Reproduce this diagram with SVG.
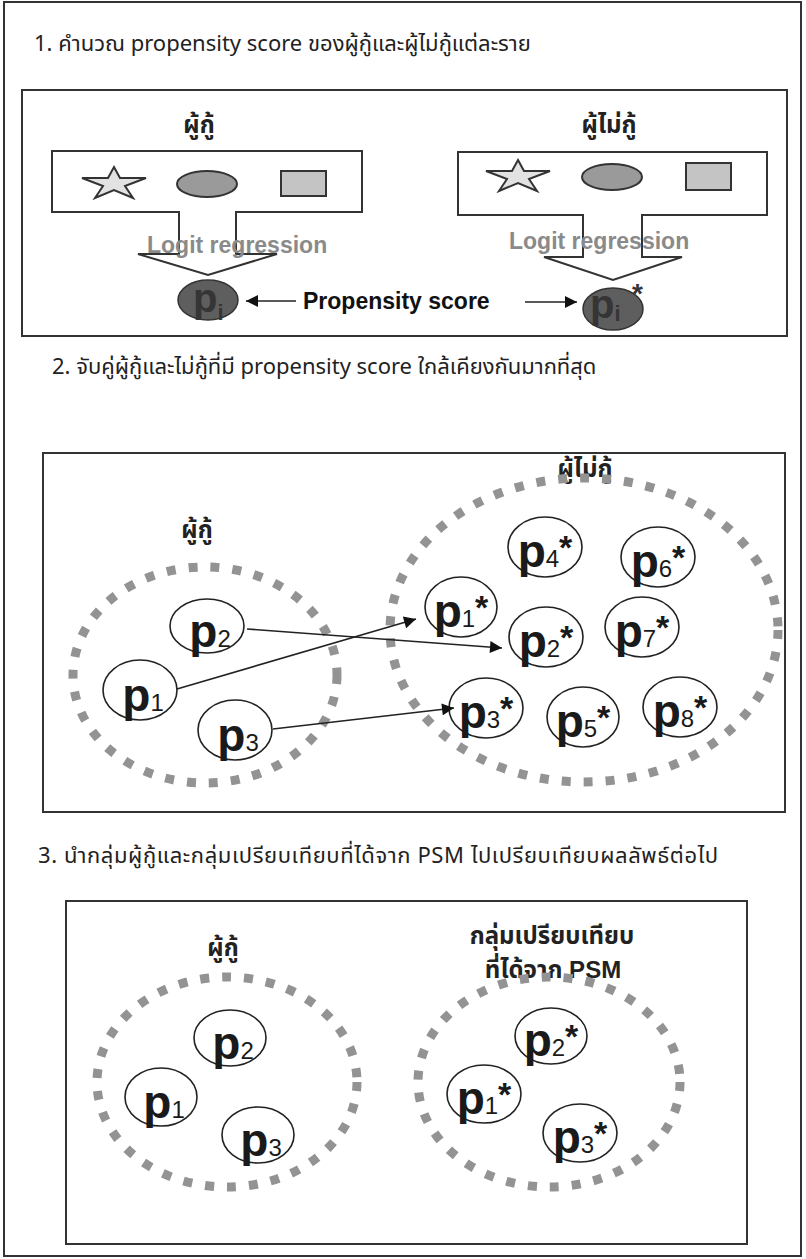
<svg xmlns="http://www.w3.org/2000/svg" width="806" height="1259" viewBox="0 0 806 1259">
<defs>
<style>
.frame{fill:none;stroke:#333;stroke-width:2}
.box{fill:#fff;stroke:#333;stroke-width:2}
.title{font-family:"Liberation Sans Narrow","Noto Sans Thai","Noto Sans","DejaVu Sans",sans-serif;font-size:22px;fill:#222}
.lab{font-family:"Liberation Sans","Noto Sans Thai","Noto Sans","DejaVu Sans",sans-serif;font-size:24px;font-weight:bold;fill:#222;text-anchor:middle}
.cont{fill:#fff;stroke:#333;stroke-width:2}
.star{fill:#e2e2e2;stroke:#333;stroke-width:2}
.oval{fill:#9a9a9a;stroke:#333;stroke-width:2}
.sq{fill:#c4c4c4;stroke:#333;stroke-width:2}
.logit{font-family:"Liberation Sans",Arial,sans-serif;font-size:23px;font-weight:bold;fill:#8a8a8a}
.pi{fill:#5e5e5e;stroke:#333;stroke-width:1.5}
.pit{font-family:"Liberation Sans",Arial,sans-serif;font-weight:bold;fill:#353535}
.ps{font-family:"Liberation Sans",Arial,sans-serif;font-size:23px;font-weight:bold;fill:#111}
.grp{fill:none;stroke:#939393;stroke-width:9;stroke-dasharray:9 13}
.node{fill:#fff;stroke:#222;stroke-width:1.6}
.nt{font-family:"Liberation Sans",Arial,sans-serif;fill:#1a1a1a;text-anchor:middle}
.pb{font-size:46px;font-weight:bold}
.sb{font-size:24px}
.as{font-size:34px;font-weight:bold}
.conn{stroke:#222;stroke-width:1.6;fill:none}
</style>
<marker id="ah2" viewBox="0 0 10 10" refX="10" refY="5" markerWidth="16" markerHeight="12" markerUnits="userSpaceOnUse" orient="auto">
<path d="M0,0 L10,5 L0,10 z" fill="#111"/>
</marker>
</defs>
<rect x="0" y="0" width="806" height="1259" fill="#fff"/>
<rect class="frame" x="4" y="2" width="797" height="1254"/>

<!-- Section 1 -->
<text class="title" x="34" y="51">1. คำนวณ propensity score ของผู้กู้และผู้ไม่กู้แต่ละราย</text>
<rect class="box" x="22" y="90" width="765" height="246"/>

<g id="borrowers-input">
<text class="lab" x="199" y="133">ผู้กู้</text>
<path class="cont" d="M52,151 H362 V212 H236 V254 H277 L208,275 L138,254 H179 V212 H52 Z"/>
<polygon class="star" points="114,167 120,178 146,178 125,186 133,198 114,190 95,198 103,186 82,178 108,178"/>
<ellipse class="oval" cx="207" cy="184" rx="30" ry="13"/>
<rect class="sq" x="281" y="171" width="45" height="25"/>
<text class="logit" x="147" y="253">Logit regression</text>
</g>
<g id="nonborrowers-input">
<text class="lab" x="609" y="133">ผู้ไม่กู้</text>
<path class="cont" d="M458,152 H767 V215 H642 V257 H682 L613,280 L544,257 H583 V215 H458 Z"/>
<polygon class="star" points="518,160 524,171 550,171 529,179 537,191 518,183 499,191 507,179 486,171 512,171"/>
<ellipse class="oval" cx="612" cy="177" rx="30" ry="13"/>
<rect class="sq" x="686" y="163" width="45" height="27"/>
<text class="logit" x="509" y="249">Logit regression</text>
</g>
<g id="pi">
<ellipse class="pi" cx="208" cy="300" rx="30" ry="20"/>
<text class="pit" x="193" y="312"><tspan font-size="40">p</tspan><tspan font-size="22" dy="8">i</tspan></text>
</g>
<g id="pi-star">
<ellipse class="pi" cx="613" cy="309" rx="30" ry="21"/>
<text class="pit" x="590" y="318"><tspan font-size="40">p</tspan><tspan font-size="22" dy="3">i</tspan></text>
<text class="pit" x="632" y="303" font-size="28" fill="#111">*</text>
</g>
<g id="ps-label">
<text class="ps" x="303" y="309">Propensity score</text>
</g>

<!-- Section 2 -->
<text class="title" x="52" y="374">2. จับคู่ผู้กู้และไม่กู้ที่มี propensity score ใกล้เคียงกันมากที่สุด</text>
<rect class="box" x="43" y="453" width="742" height="359"/>
<text class="lab" x="585" y="477">ผู้ไม่กู้</text>
<text class="lab" x="197" y="538">ผู้กู้</text>
<ellipse class="grp" cx="205" cy="675" rx="132" ry="108"/>
<ellipse class="grp" cx="584" cy="630" rx="194" ry="152"/>

<g id="s2-p2"><ellipse class="node" cx="207" cy="626" rx="37" ry="27"/><text class="nt" x="210" y="647"><tspan class="pb">p</tspan><tspan class="sb">2</tspan></text></g>
<g id="s2-p1"><ellipse class="node" cx="140" cy="690" rx="37" ry="30"/><text class="nt" x="143" y="711"><tspan class="pb">p</tspan><tspan class="sb">1</tspan></text></g>
<g id="s2-p3"><ellipse class="node" cx="235" cy="730" rx="37" ry="30"/><text class="nt" x="238" y="751"><tspan class="pb">p</tspan><tspan class="sb">3</tspan></text></g>

<g id="s2-p1s"><ellipse class="node" cx="461" cy="607" rx="36" ry="30"/><text class="nt" x="461" y="627"><tspan class="pb">p</tspan><tspan class="sb">1</tspan><tspan class="as" dy="-8">*</tspan></text></g>
<g id="s2-p4s"><ellipse class="node" cx="545" cy="547" rx="37" ry="30"/><text class="nt" x="545" y="567"><tspan class="pb">p</tspan><tspan class="sb">4</tspan><tspan class="as" dy="-8">*</tspan></text></g>
<g id="s2-p6s"><ellipse class="node" cx="658" cy="557" rx="37" ry="30"/><text class="nt" x="658" y="577"><tspan class="pb">p</tspan><tspan class="sb">6</tspan><tspan class="as" dy="-8">*</tspan></text></g>
<g id="s2-p2s"><ellipse class="node" cx="546" cy="637" rx="37" ry="30"/><text class="nt" x="546" y="657"><tspan class="pb">p</tspan><tspan class="sb">2</tspan><tspan class="as" dy="-8">*</tspan></text></g>
<g id="s2-p7s"><ellipse class="node" cx="642" cy="627" rx="37" ry="30"/><text class="nt" x="642" y="647"><tspan class="pb">p</tspan><tspan class="sb">7</tspan><tspan class="as" dy="-8">*</tspan></text></g>
<g id="s2-p3s"><ellipse class="node" cx="486" cy="708" rx="37" ry="30"/><text class="nt" x="486" y="728"><tspan class="pb">p</tspan><tspan class="sb">3</tspan><tspan class="as" dy="-8">*</tspan></text></g>
<g id="s2-p5s"><ellipse class="node" cx="583" cy="717" rx="36" ry="30"/><text class="nt" x="583" y="737"><tspan class="pb">p</tspan><tspan class="sb">5</tspan><tspan class="as" dy="-8">*</tspan></text></g>
<g id="s2-p8s"><ellipse class="node" cx="680" cy="707" rx="37" ry="30"/><text class="nt" x="680" y="727"><tspan class="pb">p</tspan><tspan class="sb">8</tspan><tspan class="as" dy="-8">*</tspan></text></g>

<!-- Section 3 -->
<text class="title" x="38" y="863" textLength="680" lengthAdjust="spacing">3. นำกลุ่มผู้กู้และกลุ่มเปรียบเทียบที่ได้จาก PSM ไปเปรียบเทียบผลลัพธ์ต่อไป</text>
<rect class="box" x="66" y="901" width="681" height="343"/>
<text class="lab" x="223" y="956">ผู้กู้</text>
<text class="lab" x="552" y="944">กลุ่มเปรียบเทียบ</text>
<text class="lab" x="553" y="978">ที่ได้จาก PSM</text>
<ellipse class="grp" cx="227" cy="1082" rx="130" ry="105"/>
<ellipse class="grp" cx="549" cy="1082" rx="131" ry="105"/>

<g id="s3-p2"><ellipse class="node" cx="230" cy="1038" rx="36" ry="28"/><text class="nt" x="233" y="1059"><tspan class="pb">p</tspan><tspan class="sb">2</tspan></text></g>
<g id="s3-p1"><ellipse class="node" cx="161" cy="1097" rx="36" ry="29"/><text class="nt" x="164" y="1118"><tspan class="pb">p</tspan><tspan class="sb">1</tspan></text></g>
<g id="s3-p3"><ellipse class="node" cx="258" cy="1135" rx="36" ry="28"/><text class="nt" x="261" y="1156"><tspan class="pb">p</tspan><tspan class="sb">3</tspan></text></g>
<g id="s3-p2s"><ellipse class="node" cx="551" cy="1036" rx="36" ry="28"/><text class="nt" x="551" y="1056"><tspan class="pb">p</tspan><tspan class="sb">2</tspan><tspan class="as" dy="-8">*</tspan></text></g>
<g id="s3-p1s"><ellipse class="node" cx="484" cy="1094" rx="37" ry="29"/><text class="nt" x="484" y="1114"><tspan class="pb">p</tspan><tspan class="sb">1</tspan><tspan class="as" dy="-8">*</tspan></text></g>
<g id="s3-p3s"><ellipse class="node" cx="580" cy="1133" rx="37" ry="29"/><text class="nt" x="580" y="1153"><tspan class="pb">p</tspan><tspan class="sb">3</tspan><tspan class="as" dy="-8">*</tspan></text></g>

<g id="connectors">
<line class="conn" x1="296" y1="301" x2="246" y2="301" marker-end="url(#ah2)"/>
<line class="conn" x1="525" y1="302" x2="577" y2="302" marker-end="url(#ah2)"/>
<line class="conn" x1="247" y1="629" x2="502" y2="648" marker-end="url(#ah2)"/>
<line class="conn" x1="177" y1="689" x2="416" y2="619" marker-end="url(#ah2)"/>
<line class="conn" x1="273" y1="729" x2="454" y2="708" marker-end="url(#ah2)"/>
</g>
</svg>
